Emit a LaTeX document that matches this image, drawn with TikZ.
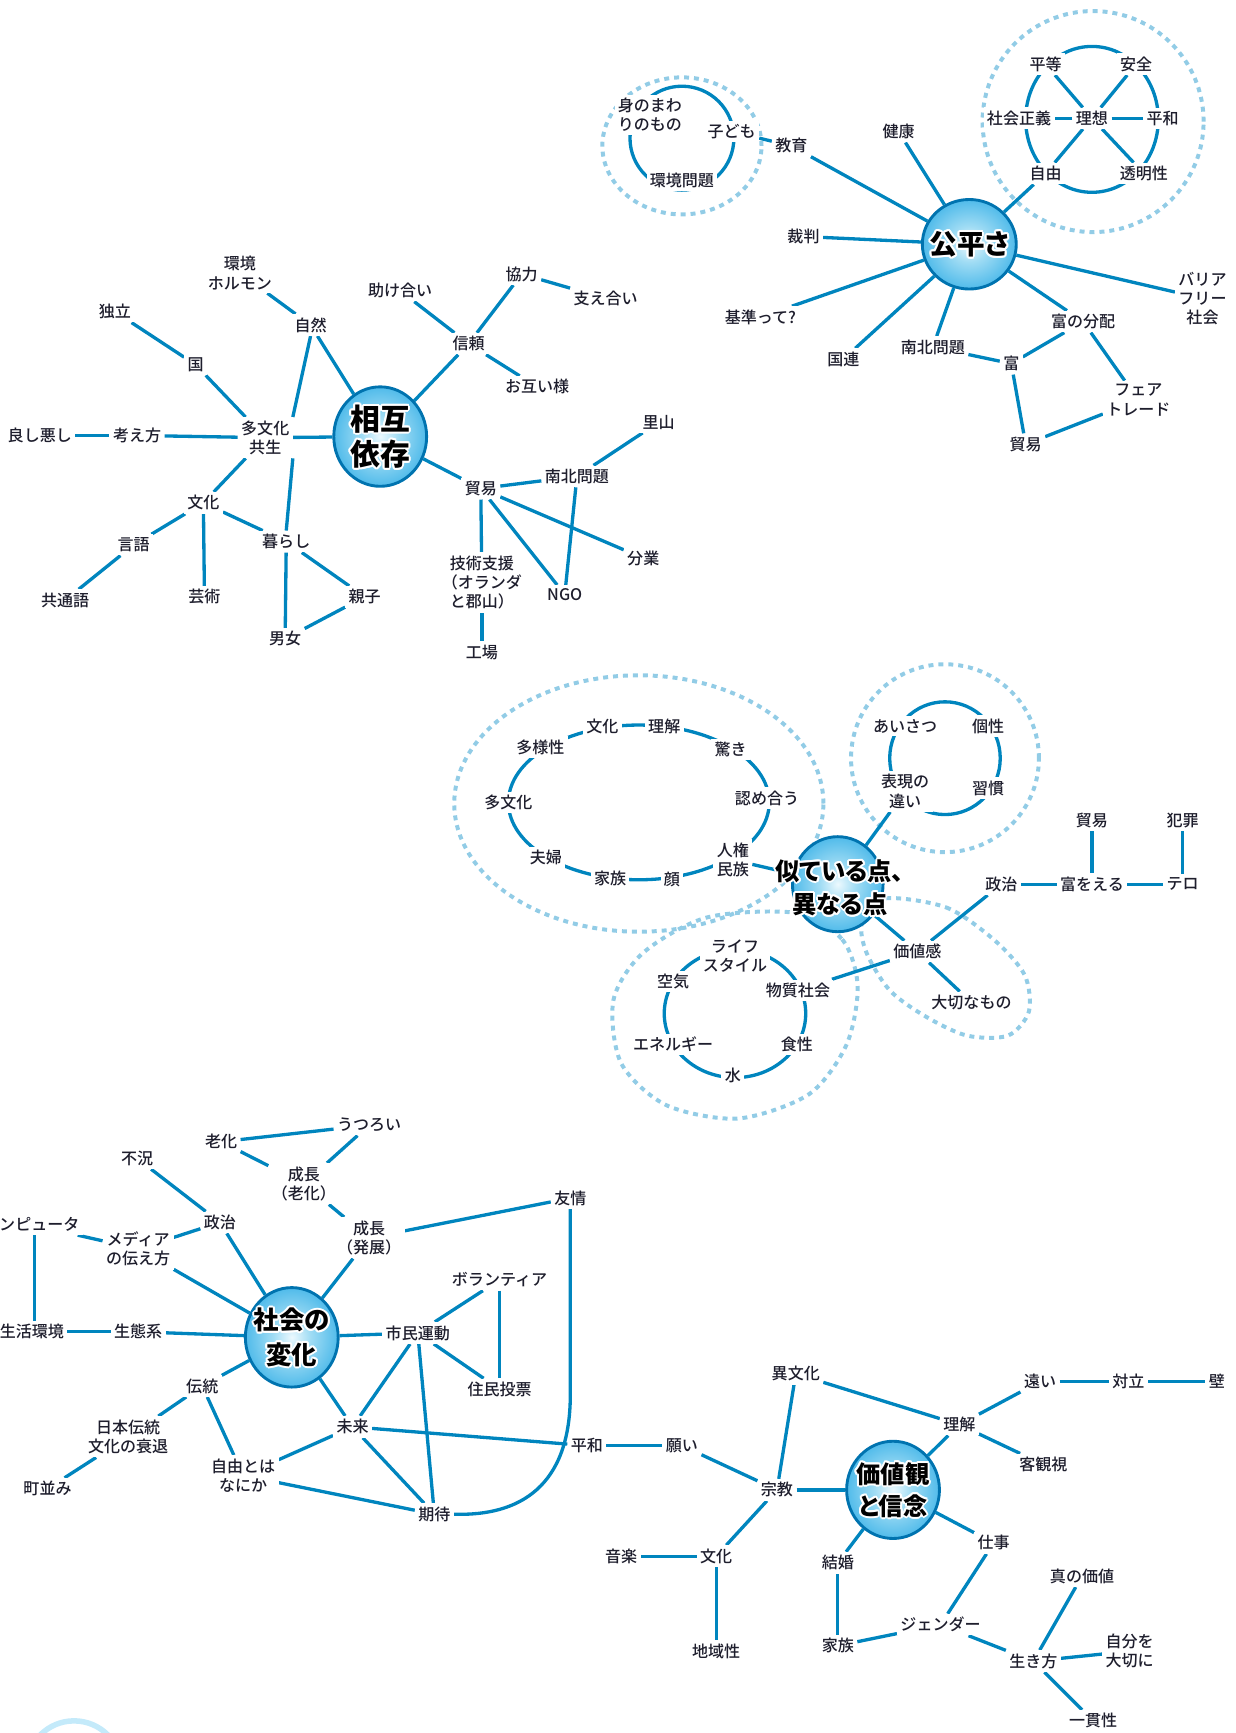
\documentclass[tikz,border=0pt]{standalone}
\usepackage{fontspec}
\setmainfont{Noto Sans CJK JP}
\newfontfamily\lblfont{Noto Sans CJK JP Medium}
\newfontfamily\hubfont{Noto Sans CJK JP Black}[RawFeature=+palt]
\usetikzlibrary{shapes.geometric}

\definecolor{lineblue}{RGB}{0,133,190}
\definecolor{dashblue}{RGB}{146,204,230}
\definecolor{txt}{RGB}{30,30,45}
\definecolor{rimblue}{RGB}{0,115,175}
\definecolor{ballA}{RGB}{236,249,254}
\definecolor{ballM}{RGB}{160,220,244}
\definecolor{ballB}{RGB}{64,180,232}
\definecolor{ballC}{RGB}{10,148,212}
\definecolor{ringcyan}{RGB}{196,234,250}

\pgfdeclareradialshading{ball}{\pgfpoint{0bp}{0bp}}{color(0bp)=(ballA); color(10bp)=(ballM); color(28bp)=(ballB); color(50bp)=(ballC)}

\pgfdeclarelayer{halo}
\pgfdeclarelayer{lines}
\pgfsetlayers{halo,lines,main}

\tikzset{
  lbl/.style={font=\fontsize{14.5}{17.5}\selectfont\lblfont, text=txt, fill=white, inner sep=3pt, align=center},
  conn/.style={draw=lineblue, line width=3pt},
  ring/.style={draw=lineblue, line width=3pt},
  halo/.style={draw=dashblue, line width=3.6pt, dash pattern=on 4.5pt off 4.5pt},
  hub/.style 2 args={ellipse, minimum width=#1, minimum height=#2, inner sep=0pt,
    draw=rimblue, line width=2.6pt, shade, shading=ball},
  hubtext/.style 2 args={font=\fontsize{#1}{#2}\selectfont\hubfont, align=center, inner sep=0pt, text=black}
}

% hub caption: white halo made of shifted copies, black text on top
\newcommand\hubcaption[4]{%
  \foreach \ang in {0,30,...,330}{%
    \node[hubtext={#2}{#3}, text=white, xshift={1.8*cos(\ang)}, yshift={1.8*sin(\ang)}] at (#1) {#4};}
  \node[hubtext={#2}{#3}] at (#1) {#4};}

\begin{document}
\begin{tikzpicture}[x=1pt,y=-1pt]
\useasboundingbox (0,0) rectangle (1118,1568);

% ---------------- 公平さ ----------------
\node[hub={85pt}{81pt}] (A) at (877,221) {};
\hubcaption{A}{25}{28}{公平さ}
\node[lbl] (a1) at (813,119) {健康};
\node[lbl] (a2) at (716,132) {教育};
\node[lbl] (a3) at (662,119) {子ども};
\node[lbl] (a4) at (588,104) {身のまわ\\りのもの};
\node[lbl] (a5) at (617,163) {環境問題};
\node[lbl] (a6) at (727,214) {裁判};
\node[lbl] (a7) at (688,287) {基準って?};
\node[lbl] (a8) at (763,325) {国連};
\node[lbl] (a9) at (844,314) {南北問題};
\node[lbl] (a10) at (915,329) {富};
\node[lbl] (a11) at (980,291) {富の分配};
\node[lbl] (a12) at (1088,270) {バリア\\フリー\\社会};
\node[lbl] (a13) at (1030,362) {フェア\\トレード};
\node[lbl] (a14) at (928,402) {貿易};
\node[lbl] (a20) at (946,58) {平等};
\node[lbl] (a21) at (1028,58) {安全};
\node[lbl] (a22) at (922,107) {社会正義};
\node[lbl] (a23) at (988,107) {理想};
\node[lbl] (a24) at (1052,107) {平和};
\node[lbl] (a25) at (946,157) {自由};
\node[lbl] (a26) at (1035,157) {透明性};

% ---------------- 相互依存 ----------------
\node[hub={84pt}{90pt}] (B) at (344,395) {};
\hubcaption{B}{27}{32}{相互\\依存}
\node[lbl] (b1) at (217,247) {環境\\ホルモン};
\node[lbl] (b2) at (281,294) {自然};
\node[lbl] (b3) at (104,282) {独立};
\node[lbl] (b4) at (177,330) {国};
\node[lbl] (b5) at (240,396) {多文化\\共生};
\node[lbl] (b6) at (36,394) {良し悪し};
\node[lbl] (b7) at (124,394) {考え方};
\node[lbl] (b8) at (184,455) {文化};
\node[lbl] (b9) at (121,493) {言語};
\node[lbl] (b10) at (59,543) {共通語};
\node[lbl] (b11) at (185,540) {芸術};
\node[lbl] (b12) at (259,490) {暮らし};
\node[lbl] (b13) at (330,540) {親子};
\node[lbl] (b14) at (258,578) {男女};
\node[lbl] (b15) at (362,263) {助け合い};
\node[lbl] (b16) at (472,248) {協力};
\node[lbl] (b17) at (548,270) {支え合い};
\node[lbl] (b18) at (424,311) {信頼};
\node[lbl] (b19) at (486,350) {お互い様};
\node[lbl] (b20) at (596,382) {里山};
\node[lbl] (b21) at (522,431) {南北問題};
\node[lbl] (b22) at (435,442) {貿易};
\node[lbl] (b23) at (582,505) {分業};
\node[lbl] (b24) at (511,538) {NGO};
\node[lbl] (b25) at (436,527) {技術支援\\（オランダ\\と郡山）};
\node[lbl] (b26) at (436,590) {工場};

% ---------------- 似ている点、異なる点 ----------------
\node[hub={82pt}{86pt}] (C) at (758,800) {};
\hubcaption{760,803}{22}{30}{似ている点、\\異なる点}
\node[lbl] (c1) at (489,676) {多様性};
\node[lbl] (c2) at (545,657) {文化};
\node[lbl] (c3) at (601,657) {理解};
\node[lbl] (c4) at (661,678) {驚き};
\node[lbl] (c5) at (694,722) {認め合う};
\node[lbl] (c6) at (663,778) {人権\\民族};
\node[lbl] (c7) at (608,796) {顔};
\node[lbl] (c8) at (552,795) {家族};
\node[lbl] (c9) at (494,776) {夫婦};
\node[lbl] (c10) at (460,726) {多文化};
\node[lbl] (c11) at (819,657) {あいさつ};
\node[lbl] (c12) at (894,657) {個性};
\node[lbl] (c13) at (819,716) {表現の\\違い};
\node[lbl] (c14) at (894,713) {習慣};
\node[lbl] (c15) at (665,865) {ライフ\\スタイル};
\node[lbl] (c16) at (609,888) {空気};
\node[lbl] (c17) at (722,896) {物質社会};
\node[lbl] (c18) at (609,945) {エネルギー};
\node[lbl] (c19) at (721,945) {食性};
\node[lbl] (c20) at (663,973) {水};
\node[lbl] (c21) at (830,861) {価値感};
\node[lbl] (c22) at (879,907) {大切なもの};
\node[lbl] (c23) at (906,800) {政治};
\node[lbl] (c24) at (988,800) {富をえる};
\node[lbl] (c25) at (1070,800) {テロ};
\node[lbl] (c26) at (988,742) {貿易};
\node[lbl] (c27) at (1070,742) {犯罪};

% ---------------- 社会の変化 ----------------
\node[hub={84pt}{90pt}] (D) at (264,1210) {};
\hubcaption{D}{23}{31}{社会の\\変化}
\node[lbl] (d1) at (200,1033) {老化};
\node[lbl] (d2) at (334,1018) {うつろい};
\node[lbl] (d3) at (275,1071) {成長\\（老化）};
\node[lbl] (d4) at (124,1048) {不況};
\node[lbl] (d5) at (199,1106) {政治};
\node[lbl, anchor=east] (d6) at (75,1108) {コンピュータ};
\node[lbl] (d7) at (125,1130) {メディア\\の伝え方};
\node[lbl] (d8) at (334,1120) {成長\\（発展）};
\node[lbl] (d9) at (516,1084) {友情};
\node[lbl] (d10) at (452,1158) {ボランティア};
\node[lbl] (d11) at (378,1206) {市民運動};
\node[lbl] (d12) at (452,1257) {住民投票};
\node[lbl] (d13) at (125,1205) {生態系};
\node[lbl, anchor=east] (d14) at (61,1205) {生活環境};
\node[lbl] (d15) at (183,1254) {伝統};
\node[lbl] (d16) at (116,1300) {日本伝統\\文化の衰退};
\node[lbl] (d17) at (43,1347) {町並み};
\node[lbl] (d18) at (220,1335) {自由とは\\なにか};
\node[lbl] (d19) at (319,1291) {未来};
\node[lbl] (d20) at (393,1370) {期待};
\node[lbl] (d21) at (531,1308) {平和};
\coordinate (dbend) at (516,1262);
\coordinate (dvx) at (31,0);

% ---------------- 価値観と信念 ----------------
\node[hub={84pt}{88pt}] (E) at (808,1348) {};
\hubcaption{E}{22}{29}{価値観\\と信念}
\node[lbl] (e1) at (617,1308) {願い};
\node[lbl] (e2) at (703,1348) {宗教};
\node[lbl] (e3) at (720,1243) {異文化};
\node[lbl] (e4) at (868,1289) {理解};
\node[lbl] (e5) at (941,1250) {遠い};
\node[lbl] (e6) at (1021,1250) {対立};
\node[lbl] (e7) at (1101,1250) {壁};
\node[lbl] (e8) at (944,1325) {客観視};
\node[lbl] (e9) at (648,1408) {文化};
\node[lbl] (e10) at (562,1408) {音楽};
\node[lbl] (e11) at (648,1494) {地域性};
\node[lbl] (e12) at (758,1414) {結婚};
\node[lbl] (e13) at (758,1489) {家族};
\node[lbl] (e14) at (899,1396) {仕事};
\node[lbl] (e15) at (851,1470) {ジェンダー};
\node[lbl] (e16) at (935,1503) {生き方};
\node[lbl] (e17) at (979,1426) {真の価値};
\node[lbl] (e18) at (1022,1494) {自分を\\大切に};
\node[lbl] (e19) at (989,1557) {一貫性};

% ---------------- connectors and rings ----------------
\begin{pgfonlayer}{lines}
  % rings
  \draw[ring] (617,125) ellipse [x radius=47pt, y radius=47pt];
  \draw[ring] (988,108) ellipse [x radius=60pt, y radius=66pt];
  \draw[ring] (578,726) ellipse [x radius=118pt, y radius=70pt];
  \draw[ring] (855,686) ellipse [x radius=50pt, y radius=51pt];
  \draw[ring] (665,917) ellipse [x radius=64pt, y radius=58pt];

  % 公平さ
  \foreach \t in {a1,a2,a6,a7,a8,a9,a11,a12,a25} \draw[conn] (A) -- (\t);
  \draw[conn] (a2) -- (a3);
  \draw[conn] (a9) -- (a10);
  \draw[conn] (a10) -- (a11);
  \draw[conn] (a10) -- (a14);
  \draw[conn] (a11) -- (a13);
  \draw[conn] (a13) -- (a14);
  \foreach \t in {a20,a21,a22,a24,a25,a26} \draw[conn] (a23) -- (\t);

  % 相互依存
  \draw[conn] (b1) -- (b2);
  \draw[conn] (b2) -- (B);
  \draw[conn] (b2.south) -- (b5.north east);
  \draw[conn] (b3) -- (b4);
  \draw[conn] (b4) -- (b5);
  \draw[conn] (b6) -- (b7);
  \draw[conn] (b7) -- (b5);
  \draw[conn] (b5) -- (B);
  \draw[conn] (b5) -- (b8);
  \draw[conn] (b5.south east) -- (b12.north);
  \draw[conn] (b8) -- (b9);
  \draw[conn] (b8) -- (b11);
  \draw[conn] (b8) -- (b12);
  \draw[conn] (b9) -- (b10);
  \draw[conn] (b12) -- (b14);
  \draw[conn] (b12) -- (b13);
  \draw[conn] (b13) -- (b14);
  \draw[conn] (B) -- (b18);
  \draw[conn] (b18) -- (b15);
  \draw[conn] (b18) -- (b16);
  \draw[conn] (b18) -- (b19);
  \draw[conn] (b16) -- (b17);
  \draw[conn] (B) -- (b22);
  \draw[conn] (b22) -- (b21);
  \draw[conn] (b21) -- (b20);
  \draw[conn] (b21) -- (b24);
  \draw[conn] (b22) -- (b23);
  \draw[conn] (b22) -- (b24);
  \draw[conn] (b22) -- (b25);
  \draw[conn] (b25) -- (b26);

  % 似ている点、異なる点
  \draw[conn] (C) -- (c6);
  \draw[conn] (C) -- (c13);
  \draw[conn] (C) -- (c21);
  \draw[conn] (c21) -- (c23);
  \draw[conn] (c21) -- (c17);
  \draw[conn] (c21) -- (c22);
  \draw[conn] (c23) -- (c24);
  \draw[conn] (c24) -- (c25);
  \draw[conn] (c24) -- (c26);
  \draw[conn] (c25) -- (c27);

  % 社会の変化
  \draw[conn] (d1) -- (d2);
  \draw[conn] (d1) -- (d3);
  \draw[conn] (d2) -- (d3);
  \draw[conn] (d3) -- (d8);
  \draw[conn] (d8) -- (D);
  \draw[conn] (d8) -- (d9);
  \draw[conn] (d4) -- (d5);
  \draw[conn] (d5) -- (D);
  \draw[conn] (d5) -- (d7);
  \draw[conn] (d6) -- (d7);
  \draw[conn] (d6.south -| dvx) -- (d14.north -| dvx);
  \draw[conn] (d7) -- (D);
  \draw[conn] (d14) -- (d13);
  \draw[conn] (d13) -- (D);
  \draw[conn] (D) -- (d11);
  \draw[conn] (d11) -- (d10);
  \draw[conn] (d11) -- (d12);
  \draw[conn] (d10) -- (d12);
  \draw[conn] (d11) -- (d19);
  \draw[conn] (d11) -- (d20);
  \draw[conn] (D) -- (d15);
  \draw[conn] (D) -- (d19);
  \draw[conn] (d15) -- (d16);
  \draw[conn] (d15) -- (d18);
  \draw[conn] (d16) -- (d17);
  \draw[conn] (d18) -- (d19);
  \draw[conn] (d18) -- (d20);
  \draw[conn] (d19) -- (d20);
  \draw[conn] (d19) -- (d21);
  \draw[conn] (d9) -- (dbend) .. controls (516,1345) and (470,1372) .. (d20.east);
  \draw[conn] (d21) -- (e1);

  % 価値観と信念
  \draw[conn] (e1) -- (e2);
  \draw[conn] (e2) -- (e3);
  \draw[conn] (e2) -- (E);
  \draw[conn] (e2) -- (e9);
  \draw[conn] (e9) -- (e10);
  \draw[conn] (e9) -- (e11);
  \draw[conn] (e3) -- (e4);
  \draw[conn] (E) -- (e4);
  \draw[conn] (e4) -- (e5);
  \draw[conn] (e4) -- (e8);
  \draw[conn] (e5) -- (e6);
  \draw[conn] (e6) -- (e7);
  \draw[conn] (E) -- (e12);
  \draw[conn] (e12) -- (e13);
  \draw[conn] (E) -- (e14);
  \draw[conn] (e14) -- (e15);
  \draw[conn] (e13) -- (e15);
  \draw[conn] (e15) -- (e16);
  \draw[conn] (e16) -- (e17);
  \draw[conn] (e16) -- (e18);
  \draw[conn] (e16) -- (e19);
\end{pgfonlayer}

% ---------------- dotted halos ----------------
\begin{pgfonlayer}{halo}
  \draw[halo] (617,132) ellipse [x radius=72pt, y radius=62pt];
  \draw[halo] (989,110) ellipse [x radius=100pt, y radius=100pt];
  \draw[halo] (578,727) ellipse [x radius=167pt, y radius=116pt];
  \draw[halo] (855,686) ellipse [x radius=85pt, y radius=85pt];
  \draw[halo] plot[smooth cycle] coordinates {(720,826) (762,850) (776,892) (766,945) (732,990) (668,1012) (603,1000) (562,962) (555,905) (582,862) (640,830)};
  \draw[halo] plot[smooth cycle] coordinates {(800,813) (856,821) (899,850) (927,882) (931,915) (912,937) (875,937) (838,920) (805,896) (784,862) (780,835)};
  \draw[ringcyan, line width=5pt] (67,1600) circle [radius=43pt];
\end{pgfonlayer}
\end{tikzpicture}
\end{document}
